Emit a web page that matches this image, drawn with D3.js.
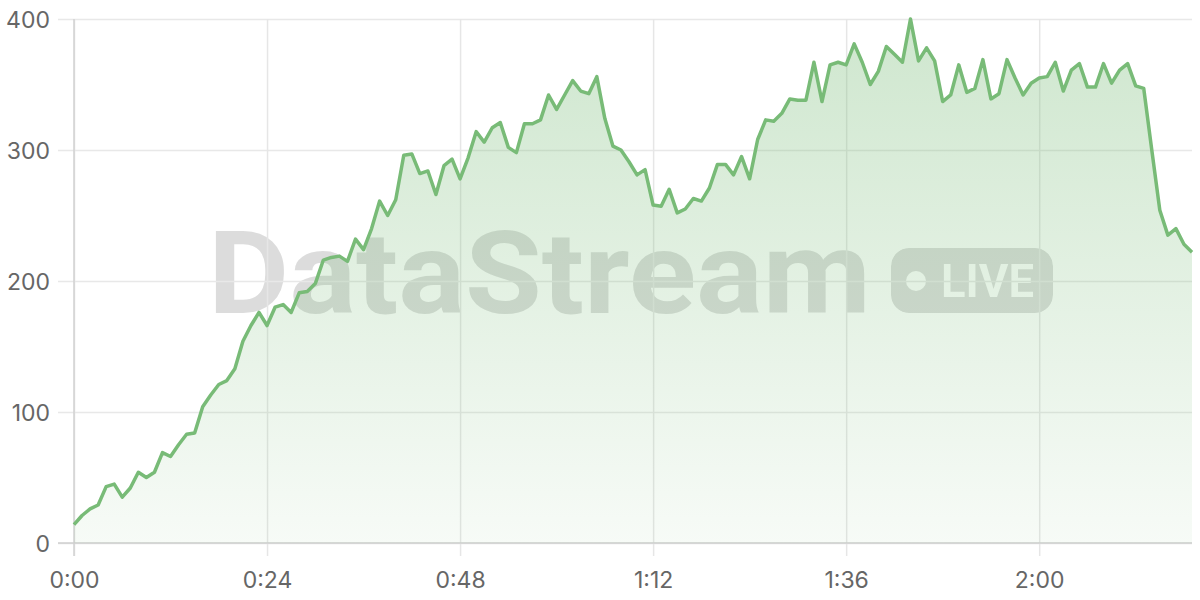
<!DOCTYPE html>
<html><head><meta charset="utf-8">
<script src="https://cdn.jsdelivr.net/npm/d3@7"></script>
<style>
html,body{margin:0;padding:0;background:#fff;}
svg{display:block;}
</style></head>
<body>
<svg id="chart" width="1200" height="600"></svg>
<script>
// minutes elapsed (one sample per minute)
const minutes = d3.range(0, 140);
const values = [
 14,21,26,29,43,45,35,42,54,50, 54,69,66,75,83,84,104,113,121,124,
 133,154,166,176,166,180,182,176,191,192, 198,216,218,219,215,232,224,240,261,250,
 262,296,297,282,284,266,288,293,278,294, 314,306,317,321,302,298,320,320,323,342,
 331,342,353,345,343,356,324,303,300,291, 281,285,258,257,270,252,255,263,261,271,
 289,289,281,295,278,308,323,322,328,339, 338,338,367,337,365,367,365,381,367,350,
 360,379,373,367,400,368,378,368,337,342, 365,344,347,369,339,343,369,355,342,351,
 355,356,367,345,361,366,348,348,366,351, 361,366,349,347,300,254,235,240,228,222
];
const yTicks = [0,100,200,300,400];
const xTicks = [0,24,48,72,96,120];
const fmtTime = m => Math.floor(m/60) + ":" + String(m%60).padStart(2,"0");

const W = 1200, H = 600;
const margin = {top:19, right:8, bottom:57, left:74};
const svg = d3.select("#chart");
const x = d3.scaleLinear().domain([0,139]).range([margin.left, W-margin.right]);
const y = d3.scaleLinear().domain([0,400]).range([H-margin.bottom, margin.top]);
const data = minutes.map((m,i)=>({m, v:values[i]}));
const green = "#78bb77";
const labelFont = "Inter, 'Open Sans', sans-serif";

const defs = svg.append("defs");
const grad = defs.append("linearGradient").attr("id","areaGrad")
  .attr("gradientUnits","userSpaceOnUse")
  .attr("x1",0).attr("x2",0).attr("y1",y(400)).attr("y2",y(0));
grad.append("stop").attr("offset","0%").attr("stop-color",green).attr("stop-opacity",0.36);
grad.append("stop").attr("offset","100%").attr("stop-color",green).attr("stop-opacity",0.06);

// watermark (bottom layer)
const mask = defs.append("mask").attr("id","badgeMask").attr("maskUnits","userSpaceOnUse")
  .attr("x",0).attr("y",0).attr("width",W).attr("height",H);
mask.append("rect").attr("x",891).attr("y",248).attr("width",162).attr("height",65).attr("rx",18).attr("fill","#fff");
mask.append("circle").attr("cx",916).attr("cy",281).attr("r",10).attr("fill","#000");
mask.append("text").attr("x",941).attr("y",297).text("LIVE")
  .attr("textLength",93).attr("lengthAdjust","spacingAndGlyphs")
  .style("font-family","Roboto, sans-serif").style("font-weight","700")
  .style("font-size","47px").attr("fill","#000");

const wm = svg.append("g").attr("opacity",0.27);
wm.append("text").attr("x",208).attr("y",313).text("DataStream")
  .attr("textLength",663).attr("lengthAdjust","spacingAndGlyphs")
  .style("font-family","Roboto, sans-serif")
  .style("font-weight","700").style("font-size","115px").attr("fill","#808080");
wm.append("rect").attr("x",891).attr("y",248).attr("width",162).attr("height",65).attr("rx",18)
  .attr("fill","#808080").attr("mask","url(#badgeMask)");

// y grid + labels
const yAxis = svg.append("g").attr("transform",`translate(${margin.left},0)`)
  .call(d3.axisLeft(y).tickValues(yTicks).tickSize(-(W-margin.left-margin.right)).tickSizeOuter(0).tickPadding(0));
yAxis.select(".domain").remove();
yAxis.selectAll(".tick line").attr("x1", -16).attr("stroke","#e8e8e8").attr("stroke-width",1.5);
yAxis.selectAll(".tick text").attr("x",-24).attr("dy","0.35em").attr("fill","#666")
  .style("font-family",labelFont).style("font-size","23px");

// x grid + labels
const xAxis = svg.append("g").attr("transform",`translate(0,${H-margin.bottom})`)
  .call(d3.axisBottom(x).tickValues(xTicks).tickFormat(fmtTime).tickSize(-(H-margin.top-margin.bottom)).tickSizeOuter(0));
xAxis.select(".domain").remove();
xAxis.selectAll(".tick line").attr("y2", 13).attr("y1", -(H-margin.top-margin.bottom)).attr("stroke","#e6e6e6").attr("stroke-width",1.5);
xAxis.selectAll(".tick text").attr("y",37).attr("dy","0.35em").attr("fill","#666")
  .style("font-family",labelFont).style("font-size","23px");

// axis lines
svg.append("line").attr("x1",margin.left).attr("x2",margin.left).attr("y1",margin.top).attr("y2",H-margin.bottom+13)
  .attr("stroke","#d2d2d2").attr("stroke-width",1.5);
svg.append("line").attr("x1",margin.left-16).attr("x2",W-margin.right).attr("y1",y(0)).attr("y2",y(0))
  .attr("stroke","#cfcfcf").attr("stroke-width",1.5);

// area
const area = d3.area().x(d=>x(d.m)).y0(y(0)).y1(d=>y(d.v));
svg.append("path").datum(data).attr("d",area).attr("fill","url(#areaGrad)");

// line
const line = d3.line().x(d=>x(d.m)).y(d=>y(d.v));
svg.append("path").datum(data).attr("d",line).attr("fill","none")
  .attr("stroke",green).attr("stroke-width",3.5).attr("stroke-linejoin","round");
</script>
</body></html>
